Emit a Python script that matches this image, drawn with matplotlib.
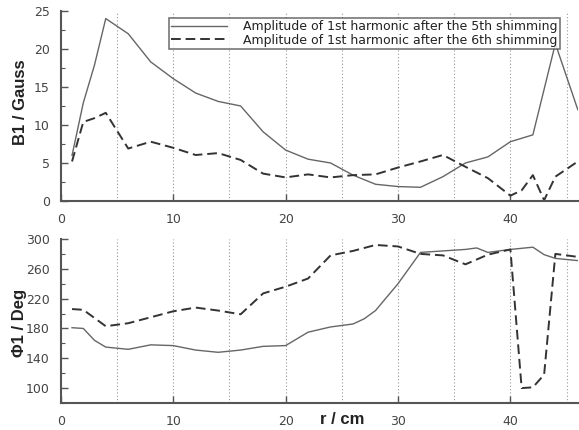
import matplotlib
matplotlib.use('Agg')
import matplotlib.pyplot as plt
from matplotlib.ticker import MultipleLocator

# amplitude of the 1st harmonic (top), r in cm
r_amp = [1, 2, 3, 4, 6, 8, 10, 12, 14, 16, 18, 20, 22, 24, 26, 28, 30, 32, 34, 36, 38, 40, 42, 44, 46]
amp5 = [6.0, 12.9, 17.9, 24.0, 22.0, 18.3, 16.1, 14.2, 13.1, 12.5, 9.1, 6.7, 5.5, 5.0, 3.4, 2.2, 1.9, 1.8, 3.2, 5.0, 5.8, 7.8, 8.7, 20.7, 12.0]

r_amp6 = [1, 2, 3, 4, 6, 8, 10, 12, 14, 16, 18, 20, 22, 24, 26, 28, 30, 32, 34, 36, 38, 40, 41, 42, 43, 44, 46]
amp6 = [5.2, 10.4, 10.9, 11.6, 6.9, 7.8, 7.0, 6.05, 6.3, 5.4, 3.6, 3.1, 3.5, 3.1, 3.4, 3.5, 4.4, 5.2, 6.05, 4.5, 3.0, 0.7, 1.4, 3.4, 0.1, 3.2, 5.2]

# phase of the 1st harmonic (bottom)
r_ph5 = [1, 2, 3, 4, 6, 8, 10, 12, 14, 16, 18, 20, 22, 24, 26, 27, 28, 30, 32, 34, 36, 37, 38, 40, 42, 43, 44, 46]
ph5 = [181, 180, 164, 155, 152, 158, 157, 151, 148, 151, 156, 157, 175, 182, 186, 193, 204, 240, 282, 284, 286, 288, 282, 286, 289, 279, 274, 271]

r_ph6 = [1, 2, 4, 6, 8, 10, 12, 14, 16, 18, 20, 22, 24, 26, 28, 30, 32, 34, 36, 38, 40, 41, 42, 43, 44, 46]
ph6 = [206, 205, 183, 187, 195, 203, 208, 204, 199, 227, 236, 247, 278, 284, 292, 290, 280, 278, 266, 279, 286, 100, 101, 118, 280, 276]

lab5 = 'Amplitude of 1st harmonic after the 5th shimming'
lab6 = 'Amplitude of 1st harmonic after the 6th shimming'

grey = '#555555'
tcol = '#444444'

fig = plt.figure(figsize=(5.79, 4.30), dpi=100)
ax1 = fig.add_axes([0.105, 0.5326, 0.893, 0.4419])
ax2 = fig.add_axes([0.105, 0.0628, 0.893, 0.3814])

ax1.plot(r_amp, amp5, '-', color='#666666', lw=1.0, label=lab5)
ax1.plot(r_amp6, amp6, '--', color='#333333', lw=1.4, dashes=(5, 2.5), label=lab6)
ax2.plot(r_ph5, ph5, '-', color='#666666', lw=1.0)
ax2.plot(r_ph6, ph6, '--', color='#333333', lw=1.4, dashes=(5, 2.5))

ax1.set_ylim(0, 25)
ax1.yaxis.set_major_locator(MultipleLocator(5))
ax1.yaxis.set_minor_locator(MultipleLocator(2.5))
ax2.set_ylim(80, 300)
ax2.set_yticks([100, 140, 180, 220, 260, 300])
ax2.yaxis.set_minor_locator(MultipleLocator(20))

for ax in (ax1, ax2):
    ax.set_xlim(0, 46)
    ax.set_xticks([0, 10, 20, 30, 40])
    for xv in range(5, 46, 5):
        ax.axvline(xv, color='#999999', lw=0.8, ls=(0, (1, 2)), zorder=0)
    for s in ('top', 'right'):
        ax.spines[s].set_visible(False)
    for s in ('left', 'bottom'):
        ax.spines[s].set_color(grey)
        ax.spines[s].set_linewidth(1.5)
    ax.tick_params(which='both', direction='in', color=grey, labelcolor=tcol, labelsize=9)
    ax.tick_params(which='major', length=5, width=1)
    ax.tick_params(which='minor', length=3, width=0.8)
    ax.tick_params(axis='y', pad=8)
    ax.tick_params(axis='x', pad=9)

leg = ax1.legend(loc='upper right', bbox_to_anchor=(0.977, 0.995), fontsize=9,
                 frameon=True, fancybox=False, edgecolor=grey, handlelength=4.5,
                 borderpad=0.15, labelspacing=0.05, handletextpad=1.3)
leg.get_frame().set_linewidth(1.2)
for t in leg.get_texts():
    t.set_color('#222222')

fig.text(0.036, 1 - 102 / 430, 'B1 / Gauss', rotation=90, ha='center', va='center',
         fontsize=12, fontweight='bold', family='Liberation Sans', color='#222222')
fig.text(0.033, 1 - 323 / 430, 'Φ1 / Deg', rotation=90, ha='center', va='center',
         fontsize=12, fontweight='bold', family='Liberation Sans', color='#222222')
fig.text(342 / 579, 1 - 420 / 430, 'r / cm', ha='center', va='center',
         fontsize=12, fontweight='bold', family='Liberation Sans', color='#222222')

fig.savefig('out.png', dpi=100)
